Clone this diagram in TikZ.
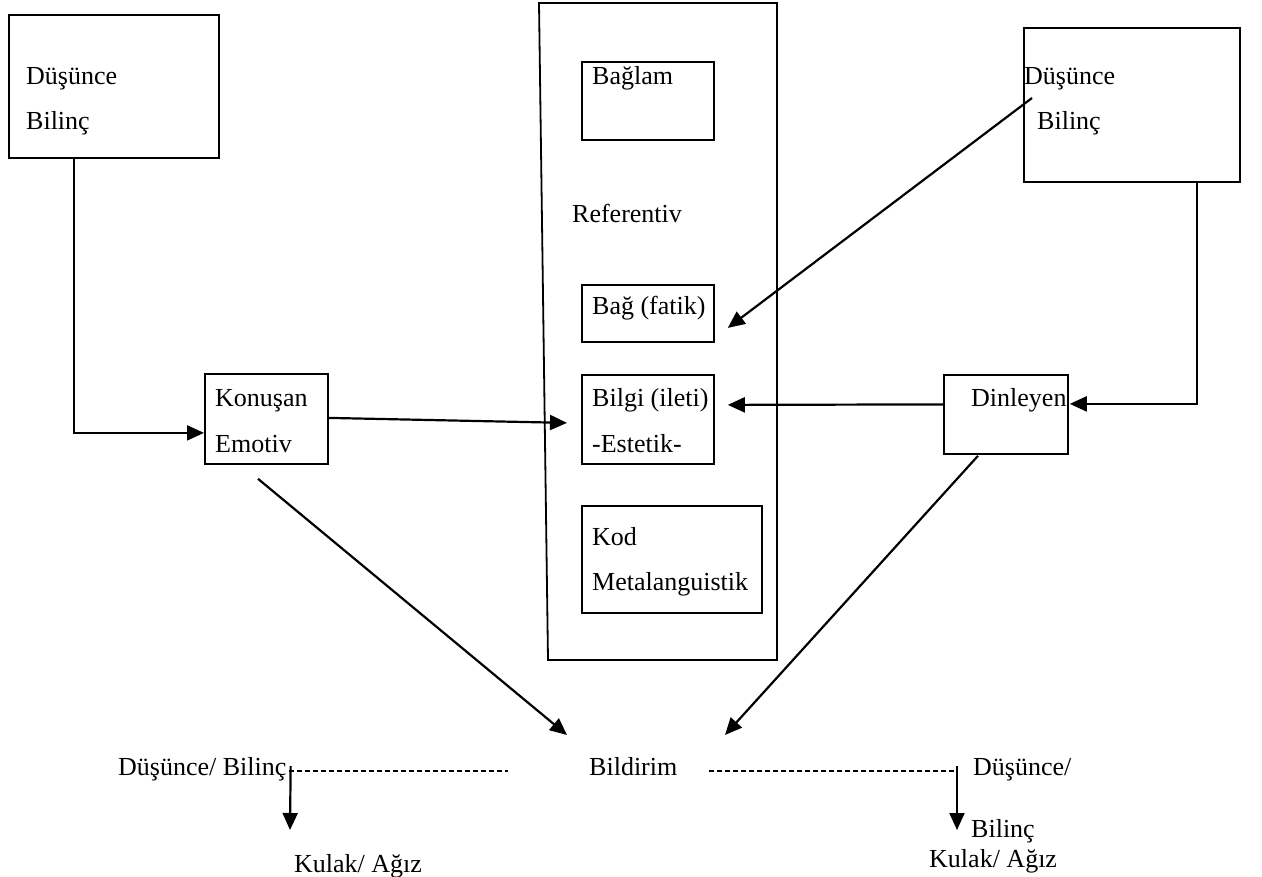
\documentclass[tikz,border=0pt]{standalone}
\usepackage{fontspec}
\setmainfont{Liberation Serif}
\usetikzlibrary{arrows.meta,calc}
\begin{document}
\begin{tikzpicture}[x=1pt,y=-1pt,
  box/.style={draw,line width=1.8pt,anchor=north west,inner sep=0pt},
  lbl/.style={anchor=base west,inner sep=0pt,font=\fontsize{26}{31}\selectfont},
  arr/.style={line width=2.2pt,-{Triangle[length=17pt,width=15pt]}},
  dashline/.style={line width=1.3pt,dash pattern=on 5pt off 3pt}
]
\useasboundingbox (0,0) rectangle (1262,877);

% boxes
\node[box,minimum width=210pt,minimum height=143pt] (ld) at (8,14) {};
\node[box,minimum width=216pt,minimum height=154pt] (rd) at (1023,27) {};
\node[box,minimum width=123pt,minimum height=90pt] (kon) at (204,373) {};
\node[box,minimum width=132pt,minimum height=78pt] (bag) at (581,61) {};
\node[box,minimum width=132pt,minimum height=57pt] (fat) at (581,284) {};
\node[box,minimum width=132pt,minimum height=89pt] (bil) at (581,374) {};
\node[box,minimum width=180pt,minimum height=107pt] (kod) at (581,505) {};
\node[box,minimum width=124pt,minimum height=79pt] (din) at (943,374) {};

% central tall frame
\draw[line width=1.8pt] (539,3) coordinate (c1) -- (777,3) coordinate (c2)
  -- (777,660) coordinate (c3) -- (548,660) coordinate (c4) -- cycle;

% texts
\node[lbl] (ld1) at (26,85) {Düşünce};
\node[lbl] (ld2) at (26,130) {Bilinç};
\node[lbl] (bagt) at (592,85) {Bağlam};
\node[lbl] (ref) at (572,223) {Referentiv};
\node[lbl] (fatt) at (592,315) {Bağ (fatik)};
\node[lbl] (bil1) at (592,407) {Bilgi (ileti)};
\node[lbl] (bil2) at (592,453) {-Estetik-};
\node[lbl] (kod1) at (592,545) {Kod};
\node[lbl] (kod2) at (592,590) {Metalanguistik};
\node[lbl] (kon1) at (215,407) {Konuşan};
\node[lbl] (kon2) at (215,453) {Emotiv};
\node[lbl] (rd1) at (1024,85) {Düşünce};
\node[lbl] (rd2) at (1037,130) {Bilinç};
\node[lbl] (dint) at (971,407) {Dinleyen};
\node[lbl] (bld) at (589,775) {Bildirim};
\node[lbl] (lb) at (118,775) {Düşünce/ Bilinç};
\node[lbl] (rdq) at (973,775) {Düşünce/};
\node[lbl] (rb) at (971,837) {Bilinç};
\node[lbl] (kl) at (294,872) {Kulak/ Ağız};
\node[lbl] (kr) at (929,867) {Kulak/ Ağız};

% connectors
\draw[arr] ($(ld.south west)+(66,0)$) |- ($(kon.west)+(0,14)$);
\draw[arr] ($(kon.east)+(0,-1)$) -- ($(bil.west)+(-14,3.5)$);
\draw[arr] ($(rd.south west)+(174,0)$) |- ($(din.east)+(1,-10.5)$);
\draw[arr] ($(din.west)+(0,-10)$) -- ($(bil.east)+(13,-14.5)$);
\draw[arr] ($(rd.north west)+(9,71)$) -- ($(fat.east)+(13,14.5)$);
\draw[arr] ($(kon.south west)+(54,14)$) -- ($(bld.base west)+(-22,-40)$);
\draw[arr] ($(din.south west)+(35,1)$) -- ($(bld.base west)+(136,-40)$);

% dashed lines
\draw[dashline] ($(lb.base east)+(2,-4)$) -- ($(bld.base west)+(-81,-4)$);
\draw[dashline] ($(bld.base east)+(31,-4)$) -- ($(rdq.base west)+(-18,-4)$);

% vertical arrows
\draw[arr] ($(lb.base east)+(4,-9)$) -- ($(kl.base west)+(-4,-42)$);
\draw[arr] ($(rdq.base west)+(-16,-9)$) -- ($(rb.base west)+(-14,-7)$);
\end{tikzpicture}
\end{document}
